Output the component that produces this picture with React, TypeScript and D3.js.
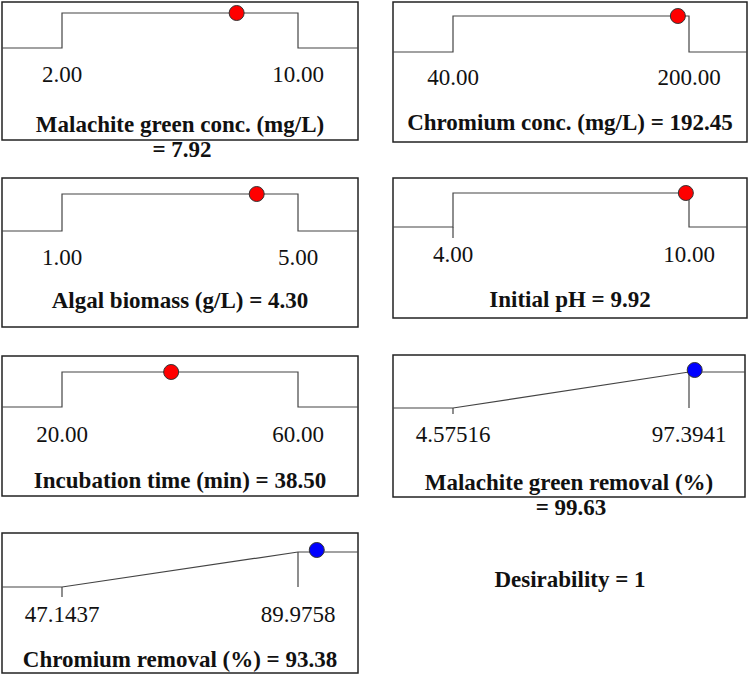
import React from "react";
import * as d3 from "d3";

// ---- Data ----
const names = [
  "Malachite green conc. (mg/L)",
  "Chromium conc. (mg/L)",
  "Algal biomass (g/L)",
  "Initial pH",
  "Incubation time (min)",
  "Malachite green removal (%)",
  "Chromium removal (%)",
];
const lows = [2.0, 40.0, 1.0, 4.0, 20.0, 4.57516, 47.1437];
const highs = [10.0, 200.0, 5.0, 10.0, 60.0, 97.3941, 89.9758];
const lowLabels = ["2.00", "40.00", "1.00", "4.00", "20.00", "4.57516", "47.1437"];
const highLabels = ["10.00", "200.00", "5.00", "10.00", "60.00", "97.3941", "89.9758"];
const values = [7.92, 192.45, 4.3, 9.92, 38.5, 99.63, 93.38];
const valueLabels = ["7.92", "192.45", "4.30", "9.92", "38.50", "99.63", "93.38"];
const kinds = ["range", "range", "range", "range", "range", "maximize", "maximize"];
const desirability = "1";

// ---- Layout (per panel) ----
type L = {
  left: number; right: number; top: number; bottom: number;
  hiY: number; loY: number; labY: number; titleY: number;
  split?: boolean; lowTick?: number;
};
const layouts: L[] = [
  { left: 2, right: 358, top: 2, bottom: 140, hiY: 13, loY: 48, labY: 82, titleY: 132, split: true },
  { left: 393, right: 747, top: 2, bottom: 142, hiY: 16, loY: 52, labY: 85, titleY: 130 },
  { left: 2, right: 358, top: 178, bottom: 327, hiY: 194, loY: 231, labY: 265, titleY: 308 },
  { left: 393, right: 747, top: 178, bottom: 318, hiY: 193, loY: 227, labY: 262, titleY: 307, lowTick: 11 },
  { left: 2, right: 358, top: 356, bottom: 496, hiY: 372, loY: 407, labY: 442, titleY: 488 },
  { left: 393, right: 745, top: 355, bottom: 497, hiY: 372, loY: 408, labY: 442, titleY: 490, split: true, lowTick: 6 },
  { left: 2, right: 358, top: 533, bottom: 673, hiY: 552, loY: 587, labY: 622, titleY: 667, lowTick: 10 },
];

const FONT = "'Liberation Serif', 'Times New Roman', Times, serif";
const LINE = "#444";
const FS = 23;

function Panel({ i }: { i: number }) {
  const L = layouts[i];
  const x = d3.scaleLinear().domain([lows[i], highs[i]]).range([L.left + 60, L.left + 296]);
  const y = d3.scaleLinear().domain([0, 1]).range([L.loY, L.hiY]);
  const x0 = x(lows[i]);
  const x1 = x(highs[i]);
  const line = d3.line<[number, number]>();
  let pts: [number, number][];
  let extra: string[] = [];
  let dotY: number;
  const isResp = kinds[i] === "maximize";
  if (!isResp) {
    pts = [
      [L.left, y(0)], [x0, y(0)], [x0, y(1)], [x1, y(1)], [x1, y(0)], [L.right, y(0)],
    ];
    dotY = y(1);
  } else {
    pts = [[L.left, y(0)], [x0, y(0)], [x1, y(1)], [L.right, y(1)]];
    extra.push(line([[x1, y(1)], [x1, y(0)]])!);
    dotY = y(1) - 2;
  }
  if (L.lowTick) extra.push(line([[x0, y(0)], [x0, y(0) + L.lowTick]])!);
  const cx = x(values[i]);
  const color = isResp ? "#0000ff" : "#ff0000";
  const midX = (L.left + L.right) / 2;
  const title = `${names[i]} = ${valueLabels[i]}`;
  return (
    <g>
      <rect x={L.left} y={L.top} width={L.right - L.left} height={L.bottom - L.top}
        fill="#fff" stroke="#222" strokeWidth={1.5} />
      <path d={line(pts)!} fill="none" stroke={LINE} strokeWidth={1.2} />
      {extra.map((d, k) => <path key={k} d={d} fill="none" stroke={LINE} strokeWidth={1.2} />)}
      <circle cx={cx} cy={dotY} r={7.5} fill={color} stroke="#333" strokeWidth={1} />
      <text x={x0} y={L.labY} textAnchor="middle" fontSize={FS} fontFamily={FONT} fill="#111">{lowLabels[i]}</text>
      <text x={x1} y={L.labY} textAnchor="middle" fontSize={FS} fontFamily={FONT} fill="#111">{highLabels[i]}</text>
      {L.split ? (
        <>
          <text x={midX} y={L.titleY} textAnchor="middle" fontSize={FS} fontWeight="bold" fontFamily={FONT} fill="#111">{names[i]}</text>
          <text x={midX + 2} y={L.titleY + 25} textAnchor="middle" fontSize={FS} fontWeight="bold" fontFamily={FONT} fill="#111">= {valueLabels[i]}</text>
        </>
      ) : (
        <text x={midX} y={L.titleY} textAnchor="middle" fontSize={FS} fontWeight="bold" fontFamily={FONT} fill="#111">{title}</text>
      )}
    </g>
  );
}

export default function App() {
  return (
    <svg width={749} height={675} style={{ position: "absolute", left: 0, top: 0, background: "#fff" }}>
      <rect x={0} y={0} width={749} height={675} fill="#fff" />
      {names.map((_, i) => <Panel key={i} i={i} />)}
      <text x={570} y={587} textAnchor="middle" fontSize={FS} fontWeight="bold" fontFamily={FONT} fill="#111">
        Desirability = {desirability}
      </text>
    </svg>
  );
}
